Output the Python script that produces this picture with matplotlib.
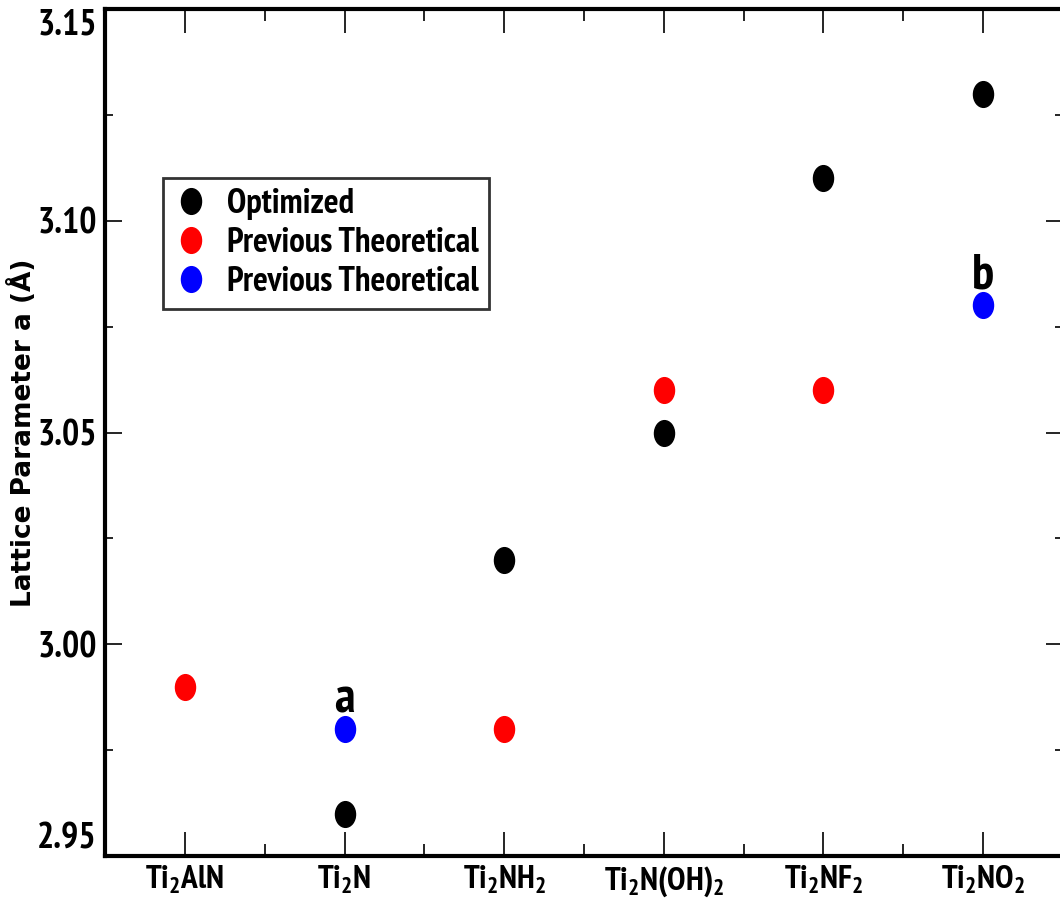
# Lattice parameter a of Ti2AlN and Ti2N-based MXenes
# optimized values vs previous theoretical ones

import matplotlib.pyplot as plt
import matplotlib.path as mpath
import matplotlib.transforms as mtrans

plt.rcParams['font.family'] = ['PT Sans Narrow', 'Liberation Sans', 'DejaVu Sans']
plt.rcParams['font.weight'] = 'bold'
plt.rcParams['mathtext.default'] = 'regular'

# compounds along x
labels = [r'Ti$_2$AlN', r'Ti$_2$N', r'Ti$_2$NH$_2$', r'Ti$_2$N(OH)$_2$',
          r'Ti$_2$NF$_2$', r'Ti$_2$NO$_2$']
pos = [1, 2, 3, 4, 5, 6]
yticks = [2.95, 3.00, 3.05, 3.10, 3.15]

# optimized (black)
x_opt = [2, 3, 4, 5, 6]
a_opt = [2.96, 3.02, 3.05, 3.11, 3.13]

# previous theoretical (red)
x_red = [1, 3, 4, 5]
a_red = [2.99, 2.98, 3.06, 3.06]

# previous theoretical (blue), refs a and b
x_blue = [2, 6]
a_blue = [2.98, 3.08]
blue_tags = ['a', 'b']

# slightly tall ellipse marker, like the original
ellipse = mpath.Path.unit_circle().transformed(mtrans.Affine2D().scale(0.78, 1.0))

fig = plt.figure(figsize=(10.6, 9.08), dpi=100)
ax = fig.add_axes([105/1060, 52/908, 958/1060, 847/908])

ms = 18.5
ax.plot(x_opt, a_opt, ls='none', marker=ellipse, ms=ms, color='black', label='Optimized')
ax.plot(x_red, a_red, ls='none', marker=ellipse, ms=ms, color='red', label='Previous Theoretical')
ax.plot(x_blue, a_blue, ls='none', marker=ellipse, ms=ms, color='blue', label='Previous Theoretical')

for xb, yb, t in zip(x_blue, a_blue, blue_tags):
    ax.annotate(t, (xb, yb), xytext=(0, 12), textcoords='offset points',
                ha='center', va='baseline', fontsize=36, fontweight='bold')

ax.set_xlim(0.5, 6.5)
ax.set_ylim(2.95, 3.15)
ax.set_xticks(pos)
ax.set_xticklabels(labels)
ax.set_xticks([1.5, 2.5, 3.5, 4.5, 5.5, 6.5], minor=True)
ax.set_yticks(yticks)
ax.set_yticklabels(['%.2f' % v for v in yticks])
ax.set_yticks([2.975, 3.025, 3.075, 3.125], minor=True)

ax.tick_params(axis='both', which='both', direction='in', top=True, right=True, color='black')
ax.tick_params(axis='x', which='major', length=17, width=1.2, labelsize=24, pad=6)
ax.tick_params(axis='x', which='minor', length=8.5, width=1.2)
ax.tick_params(axis='y', which='major', length=12.5, width=1.2, labelsize=26, pad=6)
ax.tick_params(axis='y', which='minor', length=6, width=1.2)
for s in ax.spines.values():
    s.set_linewidth(3)

# end labels pulled inside the frame, as in the original
ylabs = ax.get_yticklabels()
ylabs[0].set_va('bottom')
ylabs[-1].set_va('top')

ax.set_ylabel('Lattice Parameter a (Å)', fontsize=19, fontweight='bold',
              family=['DejaVu Sans'])
ax.yaxis.set_label_coords(-0.071, 0.5)

leg = ax.legend(loc='upper left', bbox_to_anchor=(58/958, 1 - 169/847), fontsize=25,
                frameon=True, fancybox=False, edgecolor='black', handletextpad=0.55,
                borderpad=0.3, labelspacing=0.2, handlelength=1.0, borderaxespad=0)
leg.get_frame().set_linewidth(2)

fig.savefig('out.png', dpi=100)
